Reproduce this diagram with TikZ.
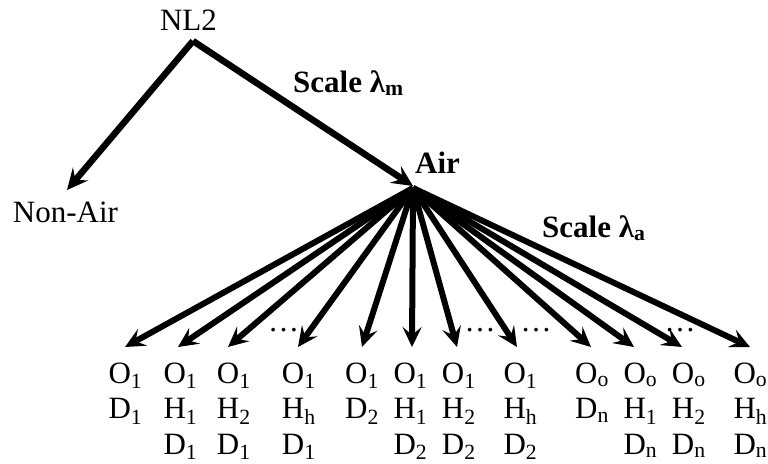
\documentclass[tikz,border=0pt]{standalone}
\usepackage{fontspec}
\setmainfont{Liberation Serif}
\usetikzlibrary{arrows.meta}
\begin{document}
\begin{tikzpicture}[x=1pt,y=-1pt,
  lbl/.style={inner sep=0pt, font=\fontsize{31}{35.5}\selectfont},
  blbl/.style={inner sep=0pt, font=\fontsize{31}{35.5}\selectfont\bfseries},
  leaf/.style={inner sep=0pt, anchor=base west, font=\fontsize{31}{35.5}\selectfont},
  arr/.style={line width=6.5pt, -{Stealth[length=21pt,width=20pt,inset=8pt]}},
  fan/.style={line width=6pt, -{Stealth[length=20pt,width=19pt,inset=8pt]}},
  dots/.style={inner sep=0pt, anchor=base, font=\fontsize{31}{35.5}\selectfont}]
\useasboundingbox (0,0) rectangle (768,463);

% upper labels
\node[lbl, anchor=base] (nl2) at (188.5,30) {NL2};
\node[lbl, anchor=base] (nonair) at (65.5,222) {Non-Air};
\node[blbl, anchor=base] (air) at (437.5,173) {Air};
\node[blbl, anchor=base west] (scm) at (293,92) {Scale λ\textsubscript{m}};
\node[blbl, anchor=base west] (sca) at (542,237) {Scale λ\textsubscript{a}};

\coordinate (top) at (193,41);
\coordinate (natip) at (67,190);
\coordinate (airtip) at (413,186);
\coordinate (fanroot) at (413,188);

\draw[arr] (top) -- (natip);
\draw[arr] (top) -- (airtip);

% leaves
\newcommand{\lf}[1]{\begin{tabular}[t]{@{}l@{}}#1\end{tabular}}
\node[leaf] (l1) at (108.3,383) {\lf{O\textsubscript{1}\\D\textsubscript{1}}};
\node[leaf] (l2) at (163.3,383) {\lf{O\textsubscript{1}\\H\textsubscript{1}\\D\textsubscript{1}}};
\node[leaf] (l3) at (216.7,383) {\lf{O\textsubscript{1}\\H\textsubscript{2}\\D\textsubscript{1}}};
\node[leaf] (l4) at (281.7,383) {\lf{O\textsubscript{1}\\H\textsubscript{h}\\D\textsubscript{1}}};
\node[leaf] (l5) at (345,383) {\lf{O\textsubscript{1}\\D\textsubscript{2}}};
\node[leaf] (l6) at (393.3,383) {\lf{O\textsubscript{1}\\H\textsubscript{1}\\D\textsubscript{2}}};
\node[leaf] (l7) at (441.7,383) {\lf{O\textsubscript{1}\\H\textsubscript{2}\\D\textsubscript{2}}};
\node[leaf] (l8) at (503.3,383) {\lf{O\textsubscript{1}\\H\textsubscript{h}\\D\textsubscript{2}}};
\node[leaf] (l9) at (575,383) {\lf{O\textsubscript{o}\\D\textsubscript{n}}};
\node[leaf] (l10) at (623.3,383) {\lf{O\textsubscript{o}\\H\textsubscript{1}\\D\textsubscript{n}}};
\node[leaf] (l11) at (671.7,383) {\lf{O\textsubscript{o}\\H\textsubscript{2}\\D\textsubscript{n}}};
\node[leaf] (l12) at (733.3,383) {\lf{O\textsubscript{o}\\H\textsubscript{h}\\D\textsubscript{n}}};

% arrow tips above leaves
\foreach \i/\x in {1/125,2/178,3/228,4/298,5/362,6/412,7/457,8/517,9/591,10/634,11/682,12/750}{
  \coordinate (t\i) at (\x,347);
}
\foreach \i in {1,...,12}{
  \draw[fan] (fanroot) -- (t\i);
}

% ellipses
\node[dots] (d1) at (283.5,331) {…};
\node[dots] (d2) at (480,331) {…};
\node[dots] (d3) at (536,331) {…};
\node[dots] (d4) at (680,331) {…};
\end{tikzpicture}
\end{document}
